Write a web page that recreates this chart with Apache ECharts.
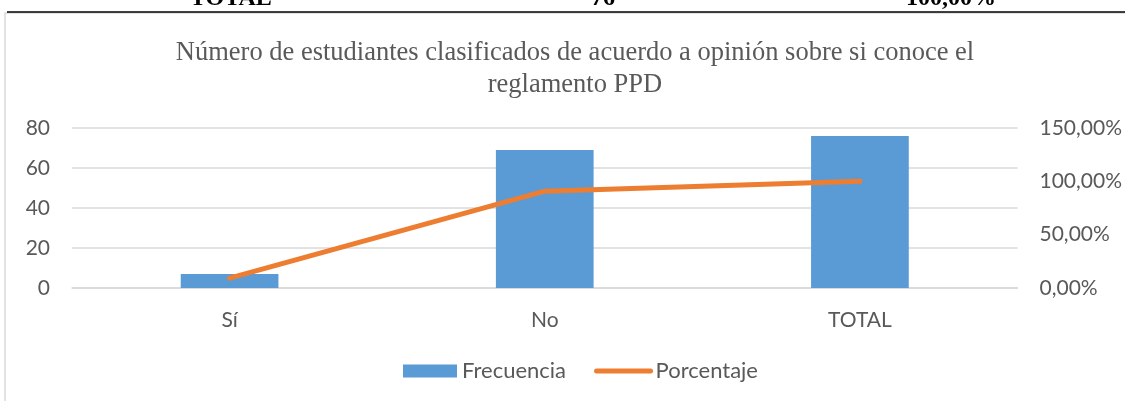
<!DOCTYPE html>
<html>
  <head>
    <meta charset="utf-8">
    <title>reglamento PPD</title>
    <script src="https://cdn.jsdelivr.net/npm/echarts@6/dist/echarts.min.js"></script>
    <style>
      html, body { margin: 0; padding: 0; background: #fff; }
    </style>
  </head>
  <body>
    <div id="main" style="width: 1125px; height: 401px"></div>
    <script>
      // data
      var categories = ["Sí", "No", "TOTAL"];
      var frecuencia = [7, 69, 76];
      var porcentaje = [9.21, 90.79, 100];
      var tableRow = ["TOTAL", "76", "100,00%"];

      var grey = "#595959";
      var font = "Lato";

      var chart = echarts.init(document.getElementById("main"));
      var option = {
        backgroundColor: "#fff",
        animation: false,
        title: {
          text: "Número de estudiantes clasificados de acuerdo a opinión sobre si conoce el\nreglamento PPD",
          left: 570,
          textAlign: "center",
          top: 32,
          textStyle: {
            fontFamily: "Liberation Serif",
            fontWeight: "normal",
            fontSize: 26.5,
            lineHeight: 32,
            color: grey
          }
        },
        graphic: [
          // border of the chart area (cut off on the right and bottom)
          {
            type: "rect",
            shape: { x: 5, y: 13, width: 1130, height: 400 },
            style: { fill: "none", stroke: "#d9d9d9", lineWidth: 1.5 }
          },
          // bottom rule of the table above the chart
          {
            type: "line",
            shape: { x1: 7, y1: 12, x2: 1125, y2: 12 },
            style: { stroke: "#000", lineWidth: 1.5 }
          },
          { type: "text", left: 190, top: -13, style: { text: tableRow[0], font: "bold 24px 'Liberation Serif'", fill: "#000" } },
          { type: "text", left: 591, top: -13, style: { text: tableRow[1], font: "bold 24px 'Liberation Serif'", fill: "#000" } },
          { type: "text", left: 906, top: -13, style: { text: tableRow[2], font: "bold 24px 'Liberation Serif'", fill: "#000" } }
        ],
        legend: {
          bottom: 14,
          left: 398,
          itemWidth: 54,
          itemHeight: 13,
          itemGap: 28,
          textStyle: { fontFamily: font, fontSize: 22, color: grey },
          data: [
            { name: "Frecuencia", icon: "rect" },
            { name: "Porcentaje", itemStyle: { opacity: 0 }, lineStyle: { width: 5, cap: "round" } }
          ]
        },
        grid: { left: 72, right: 106, top: 128, bottom: 113 },
        xAxis: {
          type: "category",
          data: categories,
          axisLine: { lineStyle: { color: "#d9d9d9", width: 1.5 } },
          axisTick: { show: false },
          axisLabel: { margin: 22, fontFamily: font, fontSize: 21, color: grey }
        },
        yAxis: [
          {
            type: "value",
            min: 0,
            max: 80,
            interval: 20,
            axisLine: { show: false },
            axisTick: { show: false },
            splitLine: { lineStyle: { color: "#d9d9d9", width: 1.5 } },
            axisLabel: { margin: 22, fontFamily: font, fontSize: 21, color: grey }
          },
          {
            type: "value",
            min: 0,
            max: 150,
            interval: 50,
            axisLine: { show: false },
            axisTick: { show: false },
            splitLine: { show: false },
            axisLabel: {
              margin: 22,
              fontFamily: font,
              fontSize: 21,
              color: grey,
              formatter: function (v) { return v.toFixed(2).replace(".", ",") + "%"; }
            }
          }
        ],
        series: [
          {
            name: "Frecuencia",
            type: "bar",
            data: frecuencia,
            barWidth: "31%",
            itemStyle: { color: "#5b9bd5" }
          },
          {
            name: "Porcentaje",
            type: "line",
            yAxisIndex: 1,
            data: porcentaje,
            showSymbol: false,
            symbol: "none",
            lineStyle: { color: "#ed7d31", width: 5, cap: "round" },
            itemStyle: { color: "#ed7d31" }
          }
        ]
      };
      chart.setOption(option);
    </script>
  </body>
</html>
